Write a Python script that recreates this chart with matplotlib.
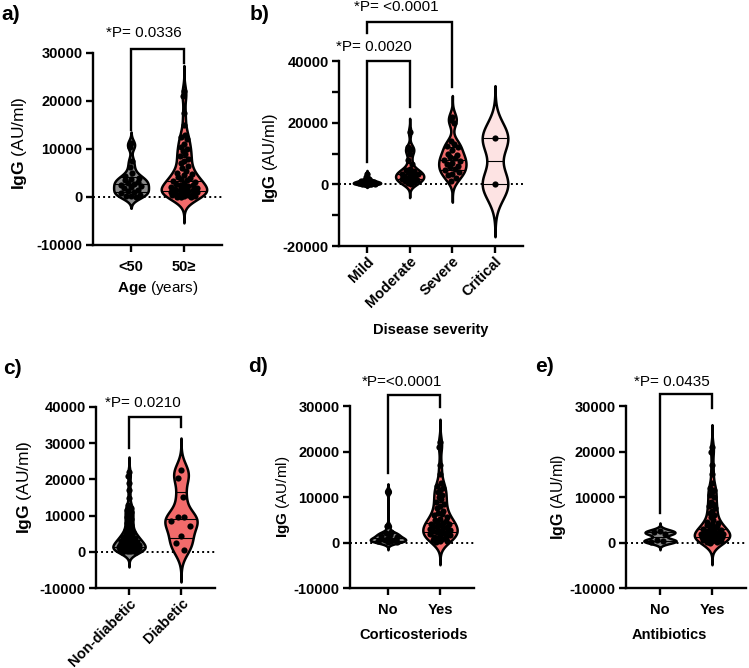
import numpy as np
import matplotlib
matplotlib.use('Agg')
import matplotlib.pyplot as plt

plt.rcParams['font.family'] = ['Liberation Sans', 'DejaVu Sans']
plt.rcParams['mathtext.fontset'] = 'custom'
plt.rcParams['mathtext.rm'] = 'Liberation Sans'
plt.rcParams['mathtext.bf'] = 'Liberation Sans:bold'

# ---------------- data ----------------
age_labels = ['<50', '50≥']
age_under50 = [11200, 10500, 7600, 6200, 5000, 4300, 4000, 3700, 3500, 3200, 3000, 2800,
               2500, 2300, 2000, 1800, 1500, 1300, 1000, 800, 500, 300, 200, 0]
age_over50 = [22000, 21000, 17500, 15000, 13000, 12500, 12000, 11000, 10500, 10000, 9500,
              9000, 8500, 8000, 7500, 7000, 6500, 6000, 5500, 5000, 4800, 4500, 4200, 4000,
              3800, 3600, 3400, 3200, 3000, 2800, 2600, 2400, 2200, 2000, 1900, 1800, 1600,
              1500, 1400, 1200, 1100, 1000, 900, 800, 700, 600, 500, 400, 300, 200, 100, 50, 0]

sev_labels = ['Mild', 'Moderate', 'Severe', 'Critical']
sev_mild = [3500, 2500, 1800, 1500, 1200, 1000, 900, 800, 700, 600, 500, 400, 300, 200,
            100, 50, 0, 0]
sev_moderate = [17000, 12000, 11500, 11000, 10000, 8000, 6500, 5000, 4500, 4200, 4000, 3800,
                3500, 3200, 3000, 2800, 2500, 2200, 2000, 1800, 1500, 1200, 1000, 700, 400, 100]
sev_severe = [22000, 21000, 20000, 14000, 13000, 12500, 12000, 11000, 10000, 9500, 9000, 8500,
              8000, 7500, 7000, 6500, 6000, 5500, 5000, 4500, 4000, 3500, 3000, 2000, 1000]
sev_critical = [15000, 0]

diab_labels = ['Non-diabetic', 'Diabetic']
diab_no = [22000, 21000, 19000, 17000, 15000, 13000, 12200, 12000, 11500, 11000, 10500, 10000,
           9500, 9000, 8500, 8000, 7500, 7000, 6500, 6000, 5500, 5200, 5000, 4800, 4500, 4300,
           4000, 3800, 3600, 3500, 3400, 3200, 3000, 2900, 2800, 2600, 2500, 2400, 2200, 2000,
           1900, 1800, 1700, 1600, 1500, 1400, 1300, 1200, 1100, 1000, 900, 800, 700, 600, 500,
           400, 300, 250, 200, 150, 100, 50, 0]
diab_yes = [22600, 20300, 15100, 9700, 9500, 8600, 7100, 4400, 2500, 500]

yn_labels = ['No', 'Yes']
cort_no = [11200, 3600, 2200, 2000, 1700, 1500, 1200, 1000, 800, 600, 500, 400, 300, 200, 100]
cort_yes = [22000, 21000, 17000, 15000, 13000, 12500, 12000, 11500, 11000, 10500, 10000, 9500,
            9000, 8500, 8000, 7500, 7000, 6500, 6200, 6000, 5500, 5200, 5000, 4800, 4500, 4300,
            4100, 4000, 3800, 3600, 3500, 3300, 3100, 3000, 2800, 2600, 2500, 2300, 2200, 2000,
            1800, 1700, 1500, 1300, 1200, 1000, 800, 600, 400, 300, 200]
abx_no = [2600, 2200, 1900, 600, 300, 100]
abx_yes = [21000, 20000, 17000, 15000, 13000, 12000, 11500, 11000, 10500, 10000, 9000, 8500,
           8000, 7500, 7000, 6500, 6000, 5500, 5000, 4500, 4200, 4000, 3800, 3600, 3400, 3200,
           3000, 2800, 2600, 2500, 2400, 2200, 2000, 1900, 1800, 1700, 1600, 1500, 1400, 1300,
           1200, 1100, 1000, 900, 800, 700, 600, 500, 400, 300, 200, 100, 0]

p_texts = {'a': '*P= 0.0336', 'b1': '*P= 0.0020', 'b2': '*P= <0.0001',
           'c': '*P= 0.0210', 'd': '*P=<0.0001', 'e': '*P= 0.0435'}

# ---------------- style ----------------
W, H = 749, 668
RED = '#F26B6B'
GRAY = '#8A8A8A'
PINK = '#FDE3E3'
TICK_FS = 10.5

fig = plt.figure(figsize=(W / 100, H / 100), dpi=100)


def add_ax(x0, x1, ytop, ybot):
    return fig.add_axes([x0 / W, 1 - ybot / H, (x1 - x0) / W, (ybot - ytop) / H])


def violin(ax, pos, data, bw, cut, hw, color):
    d = np.asarray(data, float)
    lo, hi = d.min() - cut * bw, d.max() + cut * bw
    g = np.linspace(lo, hi, 500)
    dens = np.exp(-0.5 * ((g[:, None] - d[None, :]) / bw) ** 2).sum(1)
    w = dens / dens.max() * hw
    ax.fill_betweenx(g, pos - w, pos + w, facecolor=color, edgecolor='black',
                     lw=1.8, zorder=2)
    q = np.percentile(d, [25, 50, 75], method='weibull')
    for qq in q:
        wq = np.interp(qq, g, w)
        ax.plot([pos - wq, pos + wq], [qq, qq], color='black', lw=0.8, zorder=3)
    ds = np.sort(d)[::-1]
    if len(ds) < 5:
        offs = np.zeros(len(ds))
    else:
        pat = [0, -0.55, 0.55, -0.25, 0.25, -0.8, 0.8]
        offs = np.array([pat[i % len(pat)] for i in range(len(ds))])
    wp = np.interp(ds, g, w)
    ax.scatter(pos + wp * 0.75 * offs, ds, s=20, color='black', zorder=4, lw=0)


def style(ax, xlim, ylim, yticks, labels, rot=0, minor=None):
    ax.set_xlim(*xlim)
    ax.set_ylim(*ylim)
    for s in ['top', 'right']:
        ax.spines[s].set_visible(False)
    for s in ['left', 'bottom']:
        ax.spines[s].set_linewidth(1.7)
    ax.axhline(0, color='black', lw=1.4, ls=(0, (1, 1.6)), zorder=1)
    ax.set_yticks(yticks)
    ax.set_yticklabels([str(t) for t in yticks], fontweight='bold', fontsize=TICK_FS)
    if minor is not None:
        ax.set_yticks(minor, minor=True)
    ax.set_xticks(range(len(labels)))
    if rot:
        ax.set_xticklabels(labels, fontweight='bold', fontsize=TICK_FS, rotation=rot,
                           ha='right', rotation_mode='anchor')
    else:
        ax.set_xticklabels(labels, fontweight='bold', fontsize=TICK_FS)
    ax.tick_params(axis='both', which='major', direction='out', length=5, width=1.7, pad=2.5)
    ax.tick_params(axis='y', which='minor', direction='out', length=5, width=1.7)
    ax.tick_params(axis='x', which='major', pad=6 if not rot else 1)


def bracket(ax, x0, x1, ybar, yl, yr, text, tx, ty, fs=11):
    ax.plot([x0, x0, x1, x1], [yl, ybar, ybar, yr], color='black', lw=1.7,
            clip_on=False, solid_joinstyle='miter', zorder=5)
    ax.text(tx, ty, text, ha='center', va='center', fontsize=fs, clip_on=False)


def ftext(x, y, s, **kw):
    fig.text(x / W, 1 - y / H, s, ha='center', va='center', **kw)


ylab = r'$\mathbf{IgG}$ (AU/ml)'

# ---------------- panel a ----------------
ax = add_ax(93, 222, 53, 245)
violin(ax, 0, age_under50, 900, 2.6, 0.33, GRAY)
violin(ax, 1, age_over50, 1500, 3.6, 0.43, RED)
style(ax, (-0.72, 1.72), (-10000, 30000), [-10000, 0, 10000, 20000, 30000], age_labels)
bracket(ax, 0, 1, 30800, 14000, 28000, p_texts['a'], 0.25, 34200)
ftext(20, 143, ylab, rotation=90, fontsize=12.5)
ftext(158, 288, r'$\mathbf{Age}$ (years)', fontsize=11)
ftext(11, 15, 'a)', fontsize=15, fontweight='bold')

# ---------------- panel b ----------------
ax = add_ax(339, 523, 61, 246)
violin(ax, 0, sev_mild, 400, 2.5, 0.32, GRAY)
violin(ax, 1, sev_moderate, 1300, 3.4, 0.33, RED)
violin(ax, 2, sev_severe, 2000, 3.4, 0.32, RED)
violin(ax, 3, sev_critical, 5000, 3.4, 0.30, PINK)
style(ax, (-0.656, 3.656), (-20000, 40000), [-20000, 0, 20000, 40000], sev_labels, rot=45,
      minor=[-10000, 10000, 30000])
bracket(ax, 0, 1, 40000, 7300, 25000, p_texts['b1'], 0.16, 44600)
bracket(ax, 0, 2, 52700, 49000, 31600, p_texts['b2'], 0.68, 57600)
ftext(270, 158, ylab, rotation=90, fontsize=12)
ftext(431, 330, 'Disease severity', fontsize=10.5, fontweight='bold')
ftext(260, 15, 'b)', fontsize=15, fontweight='bold')

# ---------------- panel c ----------------
ax = add_ax(96, 215, 407, 588)
violin(ax, 0, diab_no, 1200, 3.5, 0.31, GRAY)
violin(ax, 1, diab_yes, 2600, 3.4, 0.31, RED)
style(ax, (-0.635, 1.654), (-10000, 40000), [-10000, 0, 10000, 20000, 30000, 40000],
      diab_labels, rot=45)
bracket(ax, 0, 1, 37200, 28700, 34500, p_texts['c'], 0.27, 41100)
ftext(25, 487, ylab, rotation=90, fontsize=12.5)
ftext(12, 368, 'c)', fontsize=15, fontweight='bold')

# ---------------- panel d ----------------
ax = add_ax(350, 474, 406, 588)
violin(ax, 0, cort_no, 500, 3.4, 0.34, GRAY)
violin(ax, 1, cort_yes, 1500, 3.4, 0.33, RED)
style(ax, (-0.73, 1.654), (-10000, 30000), [-10000, 0, 10000, 20000, 30000], yn_labels)
bracket(ax, 0, 1, 32400, 15300, 29800, p_texts['d'], 0.27, 35300)
ftext(283, 497, ylab, rotation=90, fontsize=11)
ftext(414, 635, 'Corticosteriods', fontsize=10.5, fontweight='bold')
ftext(258, 366, 'd)', fontsize=15, fontweight='bold')

# ---------------- panel e ----------------
ax = add_ax(626, 746, 406, 588)
violin(ax, 0, abx_no, 500, 3.4, 0.31, GRAY)
violin(ax, 1, abx_yes, 1400, 3.5, 0.34, RED)
style(ax, (-0.654, 1.654), (-10000, 30000), [-10000, 0, 10000, 20000, 30000], yn_labels)
bracket(ax, 0, 1, 32600, 6500, 29600, p_texts['e'], 0.23, 35300)
ftext(558, 497, ylab, rotation=90, fontsize=11.5)
ftext(669, 635, 'Antibiotics', fontsize=10.5, fontweight='bold')
ftext(545, 367, 'e)', fontsize=15, fontweight='bold')

fig.savefig('out.png', dpi=100)
